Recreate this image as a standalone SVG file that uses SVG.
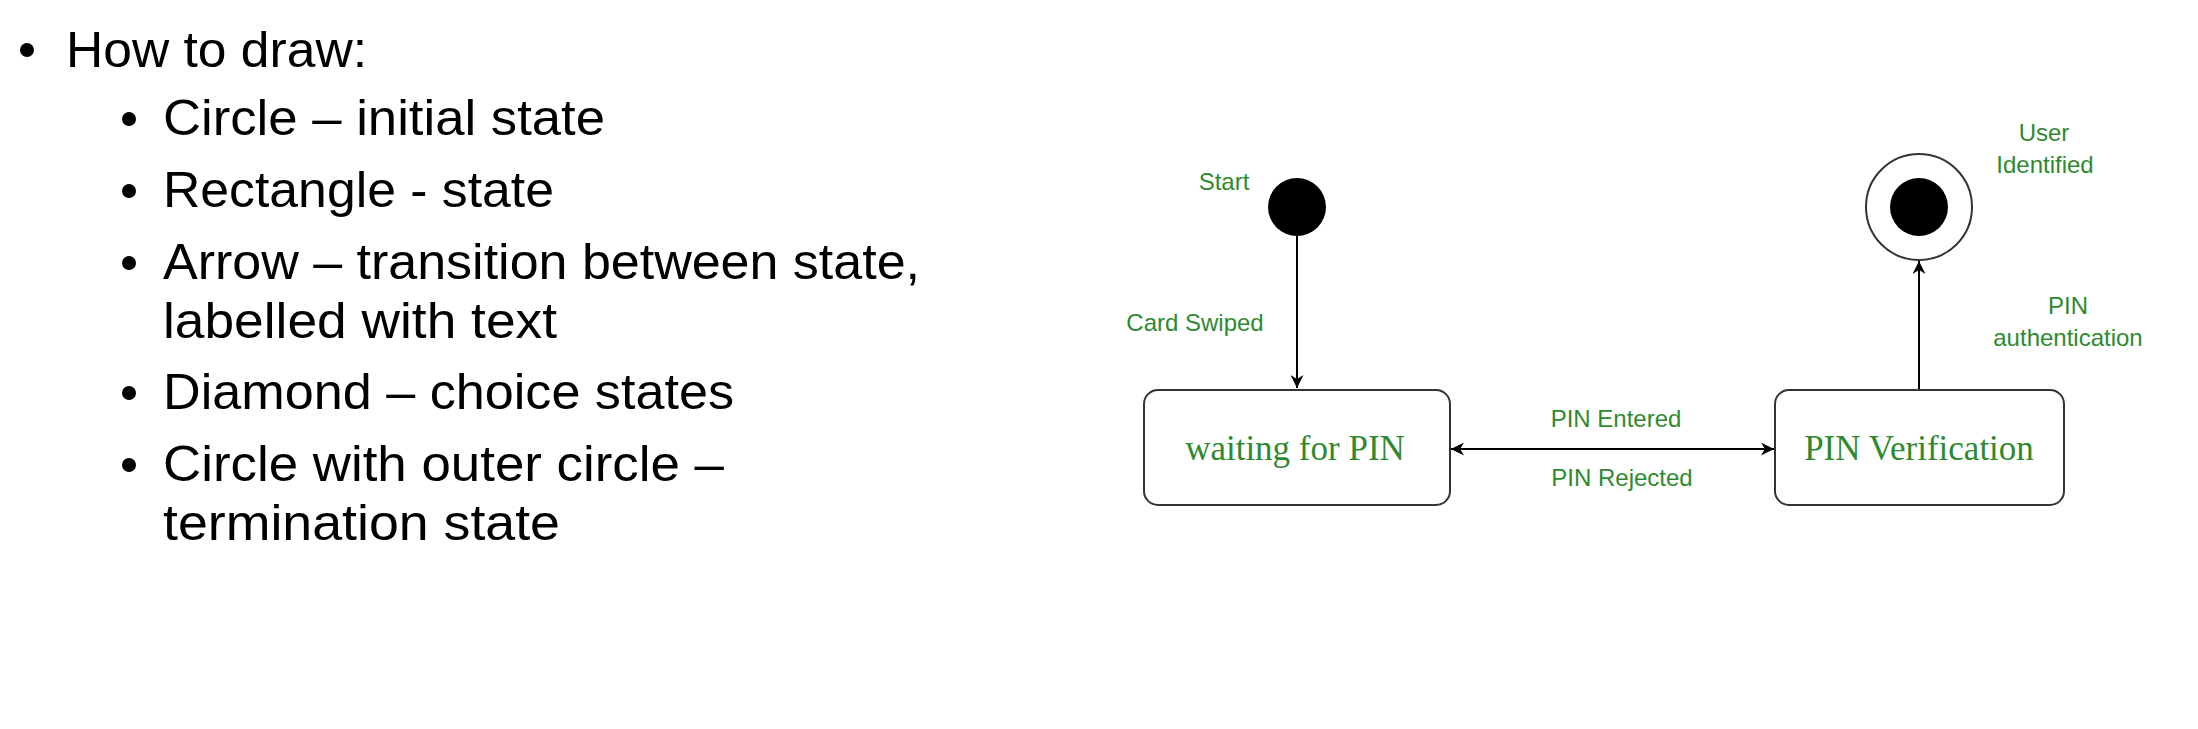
<svg xmlns="http://www.w3.org/2000/svg" width="2198" height="729" viewBox="0 0 2198 729">
<style>
.b{font-family:"Liberation Sans",Arial,sans-serif;font-size:50px;fill:#000}
.g{font-family:"Liberation Sans",Arial,sans-serif;font-size:24px;fill:#2f8a2f;text-anchor:middle}
.s{font-family:"Liberation Serif","Times New Roman",serif;font-size:35px;fill:#2f8a2f;text-anchor:middle}
.box{fill:#fff;stroke:#333;stroke-width:2}
.c{stroke:#000;stroke-width:2;fill:none}
</style>
<defs>
<marker id="ah" viewBox="0 0 10 10" refX="10" refY="5" markerWidth="13" markerHeight="13" orient="auto-start-reverse" markerUnits="userSpaceOnUse"><path d="M0,0 L10,5 L0,10 L3,5 Z" fill="#000"/></marker>
</defs>
<rect width="2198" height="729" fill="#fff"/>
<g id="bullets">
<circle cx="27" cy="50" r="7"/>
<text class="b" x="66" y="67" textLength="301" lengthAdjust="spacingAndGlyphs">How to draw:</text>
<circle cx="129" cy="119" r="7"/><text class="b" x="163" y="135" textLength="442" lengthAdjust="spacingAndGlyphs">Circle – initial state</text>
<circle cx="129" cy="191" r="7"/><text class="b" x="163" y="207" textLength="391" lengthAdjust="spacingAndGlyphs">Rectangle - state</text>
<circle cx="129" cy="263" r="7"/><text class="b" x="163" y="279" textLength="757" lengthAdjust="spacingAndGlyphs">Arrow – transition between state,</text>
<text class="b" x="163" y="338" textLength="394" lengthAdjust="spacingAndGlyphs">labelled with text</text>
<circle cx="129" cy="393" r="7"/><text class="b" x="163" y="409" textLength="571" lengthAdjust="spacingAndGlyphs">Diamond – choice states</text>
<circle cx="129" cy="465" r="7"/><text class="b" x="163" y="481" textLength="561" lengthAdjust="spacingAndGlyphs">Circle with outer circle –</text>
<text class="b" x="163" y="540" textLength="397" lengthAdjust="spacingAndGlyphs">termination state</text>
</g>
<g id="connectors">
<line class="c" x1="1297" y1="236" x2="1297" y2="388" marker-end="url(#ah)"/>
<line class="c" x1="1451" y1="449" x2="1774" y2="449" marker-start="url(#ah)" marker-end="url(#ah)"/>
<line class="c" x1="1919" y1="390" x2="1919" y2="261" marker-end="url(#ah)"/>
<text class="g" x="1195" y="331">Card Swiped</text>
<text class="g" x="1616" y="427">PIN Entered</text>
<text class="g" x="1622" y="486">PIN Rejected</text>
<text class="g" x="2068" y="314">PIN</text>
<text class="g" x="2068" y="346">authentication</text>
</g>
<g id="start">
<circle cx="1297" cy="207" r="29" fill="#000"/>
<text class="g" x="1224" y="190">Start</text>
</g>
<g id="waiting">
<rect class="box" x="1144" y="390" width="306" height="115" rx="14"/>
<text class="s" x="1295" y="460">waiting for PIN</text>
</g>
<g id="verification">
<rect class="box" x="1775" y="390" width="289" height="115" rx="14"/>
<text class="s" x="1919" y="460">PIN Verification</text>
</g>
<g id="final">
<circle cx="1919" cy="207" r="53" fill="#fff" stroke="#333" stroke-width="2"/>
<circle cx="1919" cy="207" r="29" fill="#000"/>
<text class="g" x="2044" y="141">User</text>
<text class="g" x="2045" y="173">Identified</text>
</g>
</svg>
